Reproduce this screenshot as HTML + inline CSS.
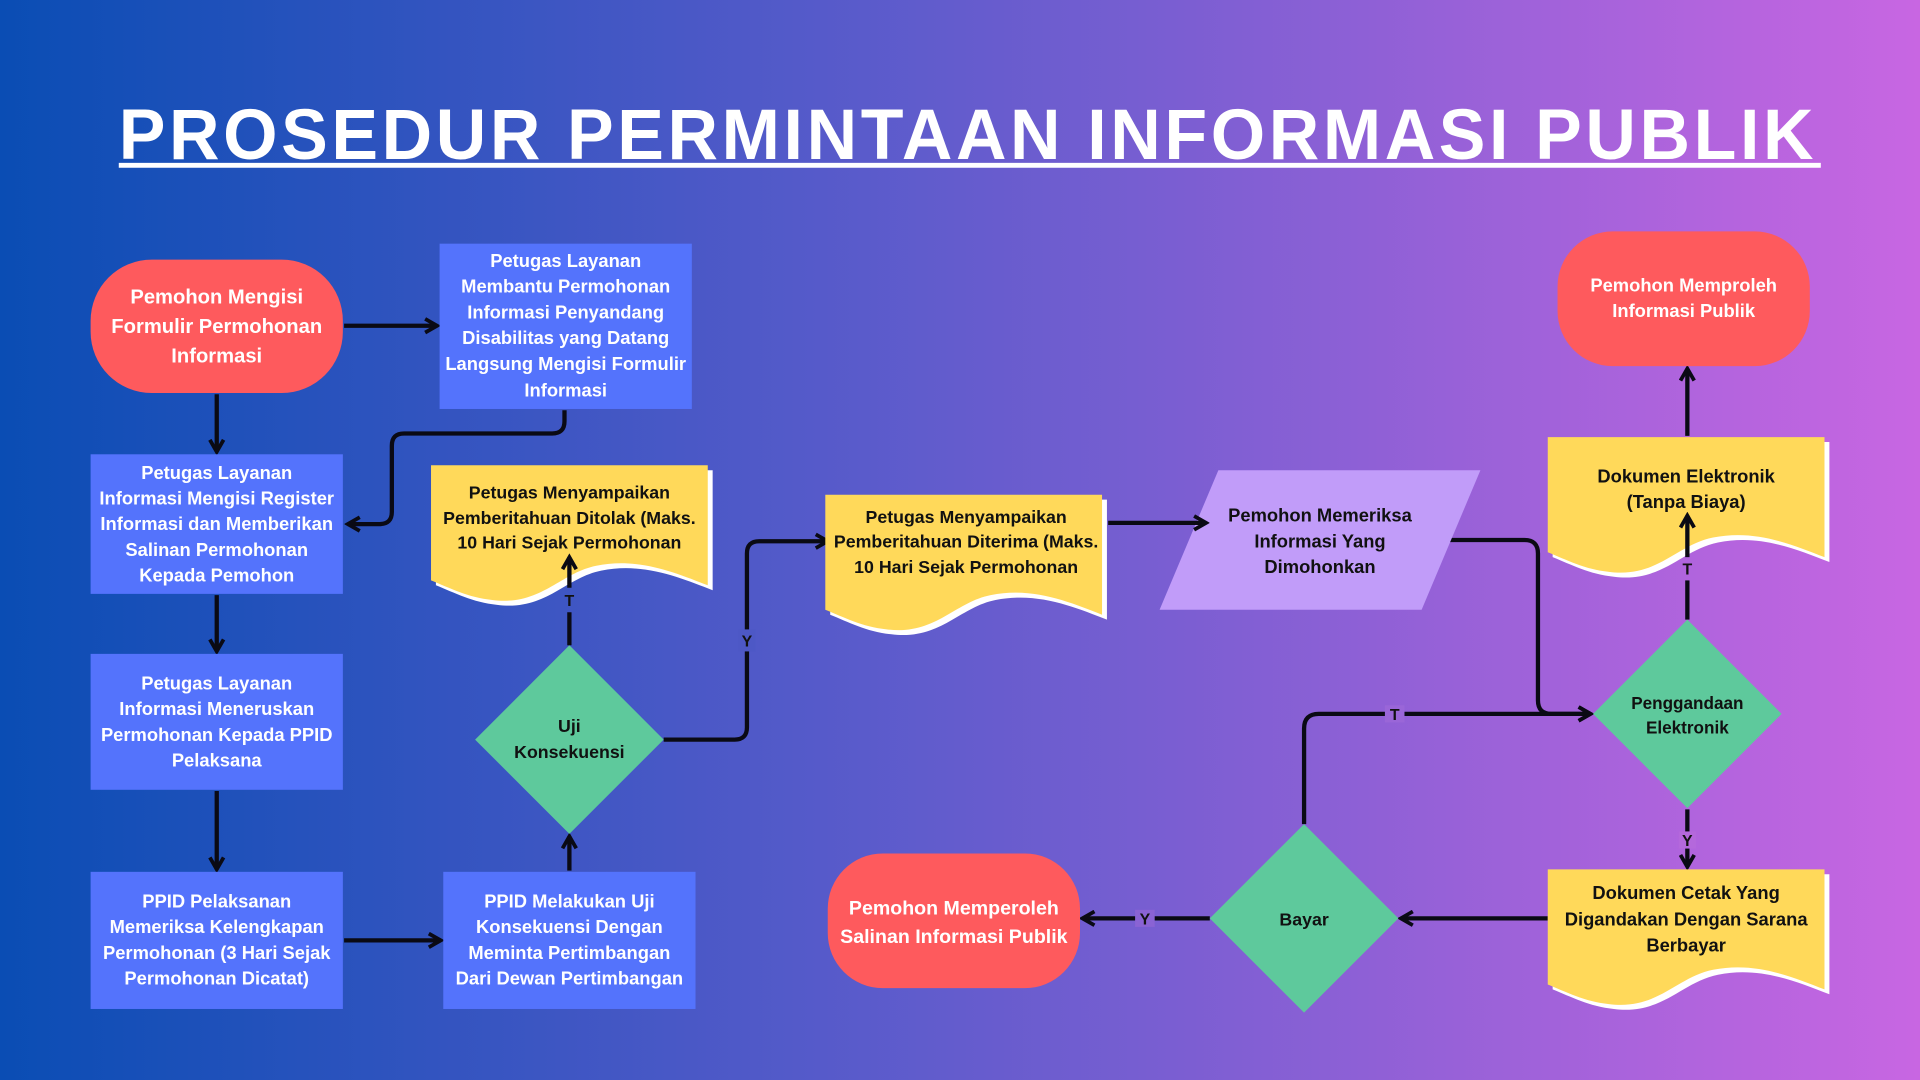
<!DOCTYPE html>
<html><head><meta charset="utf-8"><style>
html,body{margin:0;padding:0;width:1920px;height:1080px;overflow:hidden}
svg{display:block}
text{font-family:"Liberation Sans",sans-serif;font-weight:bold}
.w{fill:#fff;font-size:15px}
.d{fill:#111;font-size:14.5px}
.ln{fill:none;stroke:#0a0a14;stroke-width:3.5}
.lb{fill:#111;font-size:13px}
</style></head><body>
<svg width="1920" height="1080" viewBox="0 0 1568 882" xmlns="http://www.w3.org/2000/svg">
<defs>
<linearGradient id="bg" x1="0" y1="0" x2="1" y2="0">
<stop offset="0" stop-color="#0a4db4"/><stop offset="0.45" stop-color="#5a5bcb"/><stop offset="1" stop-color="#c866e2"/>
</linearGradient>
<marker id="a" viewBox="0 0 10 10" refX="8" refY="5" markerWidth="4" markerHeight="4" orient="auto"><path d="M1,1 L8,5 L1,9" fill="none" stroke="#0a0a14" stroke-width="2.2"/></marker>
</defs>
<rect width="1568" height="882" fill="url(#bg)"/>
<text x="97" y="130" fill="#fff" textLength="1387" lengthAdjust="spacingAndGlyphs" style="font-size:58px;letter-spacing:3px">PROSEDUR PERMINTAAN INFORMASI PUBLIK</text>
<rect x="97" y="133" width="1390" height="4" fill="#fff"/>

<!-- connectors -->
<g class="ln" marker-end="url(#a)">
<path d="M281,266 H357"/>
<path d="M177,322 V369"/>
<path d="M461,335 V344 Q461,354 451,354 H330 Q320,354 320,364 V418 Q320,428 310,428 H284"/>
<path d="M177,486 V532"/>
<path d="M177,646 V710"/>
<path d="M281,768 H360"/>
<path d="M465,711 V683"/>
<path d="M542,604 H600 Q610,604 610,594 V452 Q610,442 620,442 H676"/>
<path d="M1178,441 H1245 Q1256,441 1256,452 V572 Q1256,583 1267,583 H1299"/>
<path d="M1065,673 V595 Q1065,583 1077,583 H1299"/>
<path d="M1378,356 V301"/>
<path d="M1378,661 V708"/>
<path d="M1264,750 H1144"/>
<path d="M988,750 H884"/>
</g>

<!-- shapes -->
<rect x="74" y="212" width="206" height="109" rx="50" fill="#fe5a5d"/>
<text class="w" text-anchor="middle"><tspan x="177" y="248" style="font-size:16.5px">Pemohon Mengisi</tspan><tspan x="177" y="272" style="font-size:16.5px">Formulir Permohonan</tspan><tspan x="177" y="296" style="font-size:16.5px">Informasi</tspan></text>

<rect x="359" y="199" width="206" height="135" fill="#5473fc"/>
<text class="w" text-anchor="middle"><tspan x="462" y="218">Petugas Layanan</tspan><tspan x="462" y="239">Membantu Permohonan</tspan><tspan x="462" y="260">Informasi Penyandang</tspan><tspan x="462" y="281">Disabilitas yang Datang</tspan><tspan x="462" y="302">Langsung Mengisi Formulir</tspan><tspan x="462" y="324">Informasi</tspan></text>

<rect x="74" y="371" width="206" height="114" fill="#5473fc"/>
<text class="w" text-anchor="middle"><tspan x="177" y="391">Petugas Layanan</tspan><tspan x="177" y="412">Informasi Mengisi Register</tspan><tspan x="177" y="433">Informasi dan Memberikan</tspan><tspan x="177" y="454">Salinan Permohonan</tspan><tspan x="177" y="475">Kepada Pemohon</tspan></text>

<rect x="74" y="534" width="206" height="111" fill="#5473fc"/>
<text class="w" text-anchor="middle"><tspan x="177" y="563">Petugas Layanan</tspan><tspan x="177" y="584">Informasi Meneruskan</tspan><tspan x="177" y="605">Permohonan Kepada PPID</tspan><tspan x="177" y="626">Pelaksana</tspan></text>

<rect x="74" y="712" width="206" height="112" fill="#5473fc"/>
<text class="w" text-anchor="middle"><tspan x="177" y="741">PPID Pelaksanan</tspan><tspan x="177" y="762">Memeriksa Kelengkapan</tspan><tspan x="177" y="783">Permohonan (3 Hari Sejak</tspan><tspan x="177" y="804">Permohonan Dicatat)</tspan></text>

<rect x="362" y="712" width="206" height="112" fill="#5473fc"/>
<text class="w" text-anchor="middle"><tspan x="465" y="741">PPID Melakukan Uji</tspan><tspan x="465" y="762">Konsekuensi Dengan</tspan><tspan x="465" y="783">Meminta Pertimbangan</tspan><tspan x="465" y="804">Dari Dewan Pertimbangan</tspan></text>

<polygon points="465,527 542,604 465,681 388,604" fill="#5ec99c"/>
<text class="d" text-anchor="middle"><tspan x="465" y="598">Uji</tspan><tspan x="465" y="619">Konsekuensi</tspan></text>

<!-- documents -->
<g>
<path transform="translate(356,384)" d="M0,0 H226 V98 C200,88 170,75 135,82 C105,88 90,115 50,110 C30,108 15,100 0,94 Z" fill="#fff"/>
<path transform="translate(352,380)" d="M0,0 H226 V98 C200,88 170,75 135,82 C105,88 90,115 50,110 C30,108 15,100 0,94 Z" fill="#ffd95a"/>
<path transform="translate(678,408)" d="M0,0 H226 V98 C200,88 170,75 135,82 C105,88 90,115 50,110 C30,108 15,100 0,94 Z" fill="#fff"/>
<path transform="translate(674,404)" d="M0,0 H226 V98 C200,88 170,75 135,82 C105,88 90,115 50,110 C30,108 15,100 0,94 Z" fill="#ffd95a"/>
<path transform="translate(1268,361)" d="M0,0 H226 V98 C200,88 170,75 135,82 C105,88 90,115 50,110 C30,108 15,100 0,94 Z" fill="#fff"/>
<path transform="translate(1264,357)" d="M0,0 H226 V98 C200,88 170,75 135,82 C105,88 90,115 50,110 C30,108 15,100 0,94 Z" fill="#ffd95a"/>
<path transform="translate(1268,714)" d="M0,0 H226 V98 C200,88 170,75 135,82 C105,88 90,115 50,110 C30,108 15,100 0,94 Z" fill="#fff"/>
<path transform="translate(1264,710)" d="M0,0 H226 V98 C200,88 170,75 135,82 C105,88 90,115 50,110 C30,108 15,100 0,94 Z" fill="#ffd95a"/>
</g>
<text class="d" text-anchor="middle"><tspan x="465" y="407">Petugas Menyampaikan</tspan><tspan x="465" y="428">Pemberitahuan Ditolak (Maks.</tspan><tspan x="465" y="448">10 Hari Sejak Permohonan</tspan></text>
<text class="d" text-anchor="middle"><tspan x="789" y="427">Petugas Menyampaikan</tspan><tspan x="789" y="447">Pemberitahuan Diterima (Maks.</tspan><tspan x="789" y="468">10 Hari Sejak Permohonan</tspan></text>
<text class="d" text-anchor="middle" style="font-size:15px"><tspan x="1377" y="394">Dokumen Elektronik</tspan><tspan x="1377" y="415">(Tanpa Biaya)</tspan></text>
<text class="d" text-anchor="middle" style="font-size:15px"><tspan x="1377" y="734">Dokumen Cetak Yang</tspan><tspan x="1377" y="756">Digandakan Dengan Sarana</tspan><tspan x="1377" y="777">Berbayar</tspan></text>

<!-- arrows crossing docs (with gaps for labels) -->
<g class="ln">
<path d="M465,527 V500"/><path d="M465,480 V455" marker-end="url(#a)"/>
<path d="M1378,506 V474"/><path d="M1378,455 V421" marker-end="url(#a)"/>
</g>

<polygon points="995,384 1209,384 1161,498 947,498" fill="#c19cf9"/>
<text class="d" text-anchor="middle" style="font-size:15px"><tspan x="1078" y="426">Pemohon Memeriksa</tspan><tspan x="1078" y="447">Informasi Yang</tspan><tspan x="1078" y="468">Dimohonkan</tspan></text>
<path class="ln" d="M905,427 H985" marker-end="url(#a)"/>

<rect x="1272" y="189" width="206" height="110" rx="45" fill="#fe5a5d"/>
<text class="w" text-anchor="middle"><tspan x="1375" y="238">Pemohon Memproleh</tspan><tspan x="1375" y="259">Informasi Publik</tspan></text>

<polygon points="1378,506 1455,583 1378,660 1301,583" fill="#5ec99c"/>
<text class="d" text-anchor="middle" style="font-size:14px"><tspan x="1378" y="579">Penggandaan</tspan><tspan x="1378" y="599">Elektronik</tspan></text>

<polygon points="1065,673 1142,750 1065,827 988,750" fill="#5ec99c"/>
<text class="d" text-anchor="middle" x="1065" y="756">Bayar</text>

<rect x="676" y="697" width="206" height="110" rx="45" fill="#fe5a5d"/>
<text class="w" text-anchor="middle" style="font-size:16px"><tspan x="779" y="747">Pemohon Memperoleh</tspan><tspan x="779" y="770">Salinan Informasi Publik</tspan></text>

<!-- labels -->
<text class="lb" text-anchor="middle" x="465" y="495">T</text>
<rect x="603" y="514" width="14" height="18" fill="#4d58c6"/>
<text class="lb" text-anchor="middle" x="610" y="528">Y</text>
<rect x="1131" y="576" width="16" height="14" fill="#9a66d8"/>
<text class="lb" text-anchor="middle" x="1139" y="588">T</text>
<text class="lb" text-anchor="middle" x="1378" y="469">T</text>
<rect x="1371" y="679" width="14" height="14" fill="#b468dc"/>
<text class="lb" text-anchor="middle" x="1378" y="691">Y</text>
<rect x="927" y="743" width="16" height="14" fill="#8a63d4"/>
<text class="lb" text-anchor="middle" x="935" y="755">Y</text>
</svg>
</body></html>
